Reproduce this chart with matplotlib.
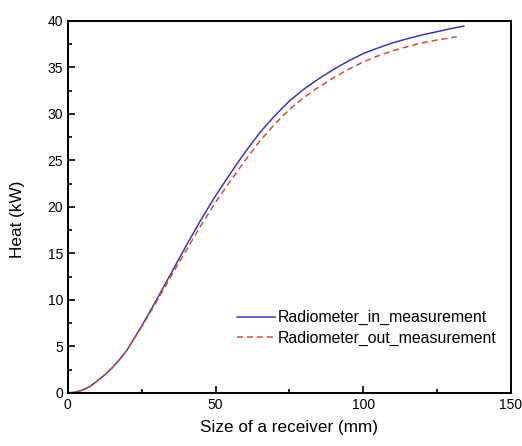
import numpy as np
import matplotlib.pyplot as plt
from matplotlib.ticker import MultipleLocator

plt.rcParams['font.family'] = ['Liberation Sans', 'DejaVu Sans']

# values
x_in = [0, 2.5, 5, 7.5, 10, 12.5, 15, 17.5, 20, 25, 30, 35, 40, 45, 50, 55, 60,
        65, 70, 75, 80, 85, 90, 95, 100, 105, 110, 115, 120, 125, 130, 134]
heat_in = [0, 0.08, 0.3, 0.7, 1.3, 1.95, 2.7, 3.6, 4.6, 7.2, 10.0, 12.9, 15.8,
           18.6, 21.2, 23.6, 25.9, 28.0, 29.8, 31.4, 32.7, 33.8, 34.8, 35.7,
           36.5, 37.1, 37.65, 38.1, 38.5, 38.85, 39.2, 39.45]
x_out = [0, 2.5, 5, 7.5, 10, 12.5, 15, 17.5, 20, 25, 30, 35, 40, 45, 50, 55, 60,
         65, 70, 75, 80, 85, 90, 95, 100, 105, 110, 115, 120, 125, 131.6]
heat_out = [0, 0.08, 0.3, 0.7, 1.3, 1.95, 2.7, 3.6, 4.6, 7.1, 9.8, 12.6, 15.3,
            18.0, 20.5, 22.8, 25.0, 27.1, 28.9, 30.5, 31.8, 32.9, 33.9, 34.8,
            35.6, 36.25, 36.8, 37.25, 37.65, 37.95, 38.3]

fig = plt.figure(figsize=(5.22, 4.46), dpi=100)
ax = fig.add_axes([0.130, 0.119, 0.849, 0.834])

ax.plot(x_in, heat_in, color='#3a3ab4', lw=1.1, label='Radiometer_in_measurement')
ax.plot(x_out, heat_out, color='#d0503c', lw=1.1, ls=(0, (4, 2.5)),
        label='Radiometer_out_measurement')

ax.set_xlim(0, 150)
ax.set_ylim(0, 40)
ax.xaxis.set_major_locator(MultipleLocator(50))
ax.xaxis.set_minor_locator(MultipleLocator(25))
ax.yaxis.set_major_locator(MultipleLocator(5))
ax.yaxis.set_minor_locator(MultipleLocator(2.5))
ax.tick_params(which='both', direction='in', labelsize=10, width=1.2)
ax.tick_params(which='major', length=5)
ax.tick_params(which='minor', length=3)
for s in ax.spines.values():
    s.set_linewidth(1.4)

ax.set_xlabel('Size of a receiver (mm)', fontsize=12.3, labelpad=6)
ax.set_ylabel('Heat (kW)', fontsize=12.3)
ax.yaxis.set_label_coords(-0.097, 0.468)

ax.legend(loc='lower right', bbox_to_anchor=(1.0, 0.088), frameon=False,
          fontsize=11.4, handlelength=2.4, handletextpad=0.2, labelspacing=0.35)

fig.savefig('out.png', dpi=100)
